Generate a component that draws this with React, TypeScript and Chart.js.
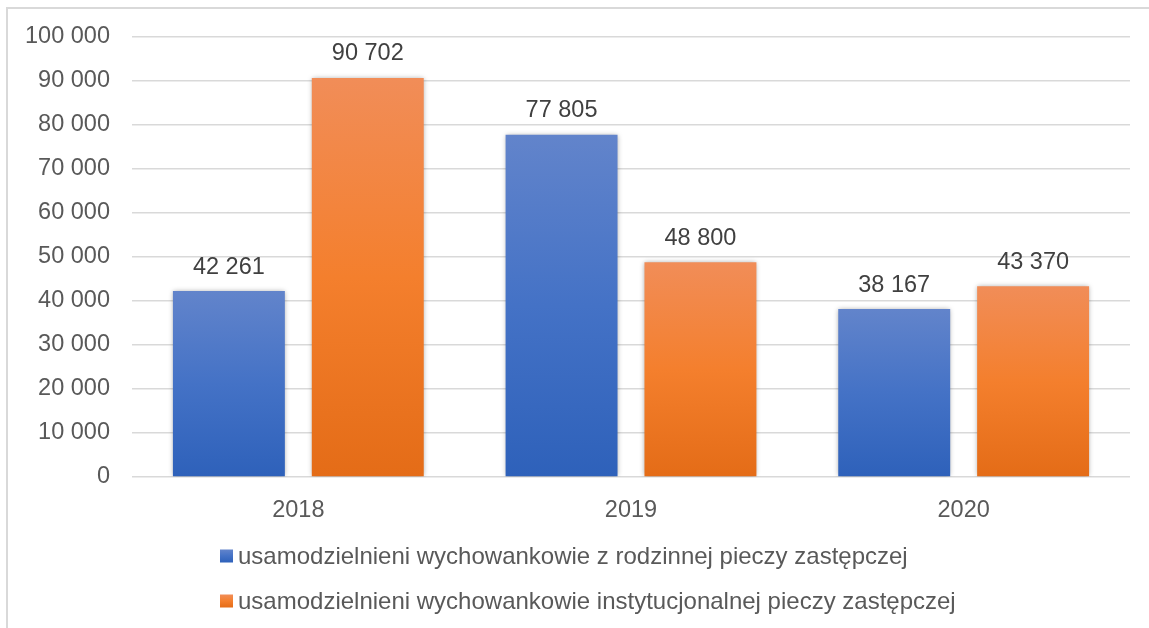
import React, { useEffect, useRef } from "react";
import { Chart, registerables } from "chart.js";

Chart.register(...registerables);

const categories = ["2018", "2019", "2020"];
const seriesNames = [
  "usamodzielnieni wychowankowie z rodzinnej pieczy zastępczej",
  "usamodzielnieni wychowankowie instytucjonalnej pieczy zastępczej",
];
const familyCare = [42261, 77805, 38167];
const institutionalCare = [90702, 48800, 43370];
const yMax = 100000;
const yStep = 10000;

const blueStops = ["#6284CB", "#4472C6", "#2E61BA"];
const orangeStops = ["#F18D58", "#F47F2D", "#E46C17"];

const FONT = "'Liberation Sans', Arial, sans-serif";

const fmt = (v: number) => String(Math.round(v)).replace(/\B(?=(\d{3})+(?!\d))/g, " ");

function makeGradient(ctx: CanvasRenderingContext2D, top: number, bottom: number, stops: string[]) {
  const g = ctx.createLinearGradient(0, top, 0, bottom);
  g.addColorStop(0, stops[0]);
  g.addColorStop(0.5, stops[1]);
  g.addColorStop(1, stops[2]);
  return g;
}

function barFill(stops: string[]) {
  return (c: any) => {
    const chart = c.chart;
    const area = chart.chartArea;
    if (!area || c.parsed == null) return stops[1];
    const top = chart.scales.y.getPixelForValue(c.parsed.y);
    const bottom = chart.scales.y.getPixelForValue(0);
    if (!isFinite(top) || bottom - top < 1) return stops[1];
    return makeGradient(chart.ctx, top, bottom, stops);
  };
}

const shadowPlugin = {
  id: "barShadow",
  beforeDatasetsDraw(chart: any) {
    const ctx = chart.ctx;
    ctx.save();
    ctx.shadowColor = "rgba(0,0,0,0.35)";
    ctx.shadowBlur = 5;
    ctx.shadowOffsetX = 0;
    ctx.shadowOffsetY = 0;
  },
  afterDatasetsDraw(chart: any) {
    chart.ctx.restore();
  },
};

const labelPlugin = {
  id: "valueLabels",
  afterDraw(chart: any) {
    const ctx = chart.ctx;
    ctx.save();
    ctx.font = `23.5px ${FONT}`;
    ctx.fillStyle = "#404040";
    ctx.textAlign = "center";
    ctx.textBaseline = "middle";
    chart.data.datasets.forEach((ds: any, i: number) => {
      const meta = chart.getDatasetMeta(i);
      meta.data.forEach((bar: any, j: number) => {
        ctx.fillText(fmt(ds.data[j]), bar.x, bar.y - 24);
      });
    });
    ctx.restore();
  },
};

const legendPlugin = {
  id: "customLegend",
  afterDraw(chart: any) {
    const ctx = chart.ctx;
    const area = chart.chartArea;
    const left = 220;
    const rowOffsets = [79, 124];
    const size = 13;
    ctx.save();
    ctx.font = `24px ${FONT}`;
    ctx.textBaseline = "middle";
    ctx.textAlign = "left";
    chart.data.datasets.forEach((ds: any, i: number) => {
      const cy = area.bottom + rowOffsets[i];
      const stops = i === 0 ? blueStops : orangeStops;
      ctx.fillStyle = makeGradient(ctx, cy - size / 2, cy + size / 2, stops);
      ctx.fillRect(left, cy - size / 2, size, size);
      ctx.fillStyle = "#595959";
      ctx.fillText(ds.label, left + size + 5, cy + 1);
    });
    ctx.restore();
  },
};

export default function App() {
  const ref = useRef<HTMLCanvasElement | null>(null);

  useEffect(() => {
    if (!ref.current) return;
    Chart.defaults.font.family = FONT;
    const chart = new Chart(ref.current, {
      type: "bar",
      data: {
        labels: categories,
        datasets: [
          {
            label: seriesNames[0],
            data: familyCare,
            backgroundColor: barFill(blueStops) as any,
            categoryPercentage: 0.835,
            barPercentage: 0.806,
          },
          {
            label: seriesNames[1],
            data: institutionalCare,
            backgroundColor: barFill(orangeStops) as any,
            categoryPercentage: 0.835,
            barPercentage: 0.806,
          },
        ],
      },
      options: {
        responsive: false,
        animation: false,
        layout: { padding: { left: 0, top: 37, right: 19, bottom: 0 } },
        plugins: {
          legend: { display: false },
          tooltip: { enabled: false },
        },
        scales: {
          x: {
            grid: { display: false },
            border: { display: false },
            ticks: {
              color: "#595959",
              font: { size: 23.5, family: FONT },
              padding: 11,
              maxRotation: 0,
            },
            afterFit: (scale: any) => {
              scale.height = 151;
            },
          },
          y: {
            min: 0,
            max: yMax,
            border: { display: false },
            grid: { color: "#D9D9D9", lineWidth: 1.5, drawTicks: false },
            ticks: {
              stepSize: yStep,
              color: "#595959",
              font: { size: 23.5, family: FONT },
              padding: 22,
              callback: (v: any) => fmt(Number(v)),
            },
            afterFit: (scale: any) => {
              scale.width = 132;
            },
          },
        },
      },
      plugins: [shadowPlugin, labelPlugin, legendPlugin],
    });
    return () => chart.destroy();
  }, []);

  return (
    <div style={{ position: "fixed", left: 0, top: 0, width: 1149, height: 628, overflow: "hidden", background: "#fff" }}>
      <div
        style={{
          position: "absolute",
          left: 6,
          top: 7,
          width: 1300,
          height: 800,
          borderLeft: "2px solid #D9D9D9",
          borderTop: "2px solid #D9D9D9",
        }}
      />
      <canvas ref={ref} width={1149} height={628} style={{ position: "absolute", left: 0, top: 0 }} />
    </div>
  );
}
